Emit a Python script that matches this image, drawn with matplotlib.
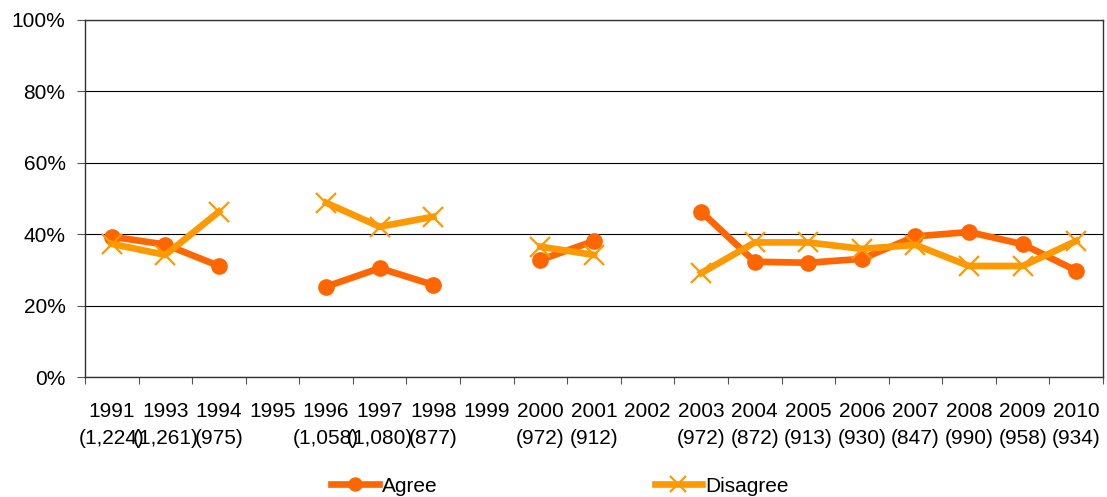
import numpy as np
import matplotlib.pyplot as plt

plt.rcParams['font.family'] = ['Liberation Sans', 'DejaVu Sans']

# datos
years = ['1991', '1993', '1994', '1995', '1996', '1997', '1998', '1999', '2000', '2001',
         '2002', '2003', '2004', '2005', '2006', '2007', '2008', '2009', '2010']
counts = ['(1,224)', '(1,261)', '(975)', '', '(1,058)', '(1,080)', '(877)', '', '(972)', '(912)',
          '', '(972)', '(872)', '(913)', '(930)', '(847)', '(990)', '(958)', '(934)']
nan = np.nan
agree = [39.3, 37.1, 31.1, nan, 25.3, 30.5, 25.8, nan, 32.8, 38.1,
         nan, 46.3, 32.3, 32.0, 33.1, 39.4, 40.6, 37.2, 29.8]
disagree = [37.3, 34.2, 46.3, nan, 48.8, 42.1, 44.9, nan, 36.5, 34.2,
            nan, 29.1, 37.7, 37.7, 35.9, 37.0, 31.1, 31.1, 38.1]

labels = [f'{y}\n{c}' for y, c in zip(years, counts)]
x = np.arange(len(years))

fig = plt.figure(figsize=(11.07, 4.97), dpi=100)
ax = fig.add_axes([0.0768, 0.2414, 0.9196, 0.7184])

ax.plot(x, agree, color='#FF6600', lw=4.8, marker='o', ms=11, label='Agree', zorder=3)
ax.plot(x, disagree, color='#FF9900', lw=4.8, marker='x', ms=14, mew=1.6,
        label='Disagree', zorder=3)

ax.set_xlim(-0.5, len(years) - 0.5)
ax.set_ylim(0, 100)
ax.set_yticks(range(0, 101, 20))
ax.set_yticklabels([f'{v}%' for v in range(0, 101, 20)], fontsize=15)
ax.yaxis.grid(True, color='black', lw=0.8)
ax.set_axisbelow(True)

# marcas en los limites de categoria, etiquetas en el centro
ax.set_xticks(np.arange(-0.5, len(years), 1))
ax.set_xticklabels([])
ax.set_xticks(x, minor=True)
ax.set_xticklabels(labels, minor=True, fontsize=15, linespacing=1.55)
ax.tick_params(axis='x', which='minor', length=0, pad=18)
ax.tick_params(axis='x', which='major', length=5, direction='out', color='#555555')
ax.tick_params(axis='y', length=6, direction='out', pad=8, color='#555555')

for s in ax.spines.values():
    s.set_color('#333333')
    s.set_linewidth(1.0)

fig.legend(loc='center', bbox_to_anchor=(0.506, 0.022), ncol=2, frameon=False,
           fontsize=15, handlelength=2.3, columnspacing=10.4, handletextpad=0.15,
           markerscale=0.85)

fig.savefig('out.png', dpi=100)
plt.close()
